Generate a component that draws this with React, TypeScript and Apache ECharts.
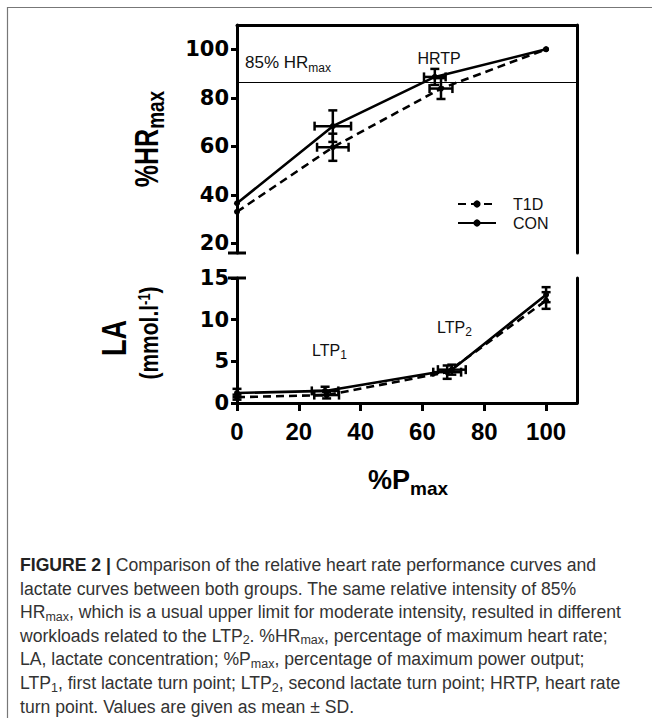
import React, { useEffect, useRef } from 'react';
import * as echarts from 'echarts';

// ---- data ----
const xTicks = [0, 20, 40, 60, 80, 100];
const hrTicks = [20, 40, 60, 80, 100];
const laTicks = [0, 5, 10, 15];

const hrConX = [0, 31, 64, 100];
const hrConY = [36.5, 68.3, 88.6, 100];
const hrConXSd = [0, 5.9, 3.5, 0];
const hrConYSd = [0, 6.5, 3.3, 0];

const hrT1dX = [0, 31, 66, 100];
const hrT1dY = [33, 59.6, 83.8, 100];
const hrT1dXSd = [0, 5.1, 3.7, 0];
const hrT1dYSd = [0, 5.6, 4.3, 0];

const laConX = [0, 28.5, 69.5, 100];
const laConY = [1.2, 1.45, 4.0, 13.0];
const laConXSd = [0, 4.3, 4.5, 0];
const laConYSd = [0.5, 0.5, 0.6, 0.9];

const laT1dX = [0, 29, 68, 100];
const laT1dY = [0.7, 0.95, 3.7, 12.3];
const laT1dXSd = [0, 4.0, 4.5, 0];
const laT1dYSd = [0.3, 0.4, 0.8, 1.0];

const hr85 = 86.5;

const SANS = "'Liberation Sans', Arial, sans-serif";
const BOLDNUM = "'DejaVu Sans', sans-serif";

const pairs = (xs: number[], ys: number[]) => xs.map((x, i) => [x, ys[i]]);

const errorSeries = (
  name: string, xs: number[], ys: number[], xsd: number[], ysd: number[], xi: number, yi: number
) => ({
  type: 'custom',
  name,
  xAxisIndex: xi,
  yAxisIndex: yi,
  coordinateSystem: 'cartesian2d',
  silent: true,
  z: 3,
  data: xs.map((x, i) => [x, ys[i], xsd[i], ysd[i]]),
  encode: { x: 0, y: 1 },
  renderItem: (_p: any, api: any) => {
    const x = api.value(0), y = api.value(1), ex = api.value(2), ey = api.value(3);
    const st = { stroke: '#000', lineWidth: 2.5 };
    const cap = 4.5;
    const ch: any[] = [];
    if (ey > 0) {
      const a = api.coord([x, y + ey]);
      const b = api.coord([x, y - ey]);
      ch.push({ type: 'line', shape: { x1: a[0], y1: a[1], x2: b[0], y2: b[1] }, style: st });
      ch.push({ type: 'line', shape: { x1: a[0] - cap, y1: a[1], x2: a[0] + cap, y2: a[1] }, style: st });
      ch.push({ type: 'line', shape: { x1: b[0] - cap, y1: b[1], x2: b[0] + cap, y2: b[1] }, style: st });
    }
    if (ex > 0) {
      const a = api.coord([x - ex, y]);
      const b = api.coord([x + ex, y]);
      ch.push({ type: 'line', shape: { x1: a[0], y1: a[1], x2: b[0], y2: b[1] }, style: st });
      ch.push({ type: 'line', shape: { x1: a[0], y1: a[1] - cap, x2: a[0], y2: a[1] + cap }, style: st });
      ch.push({ type: 'line', shape: { x1: b[0], y1: b[1] - cap, x2: b[0], y2: b[1] + cap }, style: st });
    }
    return { type: 'group', children: ch };
  },
});

const lineSeries = (name: string, data: number[][], dashed: boolean, xi: number, yi: number) => ({
  type: 'line',
  name,
  xAxisIndex: xi,
  yAxisIndex: yi,
  data,
  symbol: 'circle',
  symbolSize: 6,
  itemStyle: { color: '#000' },
  lineStyle: { color: '#000', width: 2.6, type: dashed ? [8, 5] : 'solid' },
  z: 4,
});

const lineOnly = { show: true, onZero: false, lineStyle: { color: '#000', width: 3 } };

// rich text helpers: all tokens top-aligned, subscripts pushed down with top padding
const main = (fs: number, bold: boolean, fill = '#000') => ({
  fontFamily: SANS, fontWeight: bold ? 'bold' : 'normal', fontSize: fs, fill, color: fill, verticalAlign: 'top',
});
const sub = (fs: number, bold: boolean, drop: number, fill = '#000') => ({
  fontFamily: SANS, fontWeight: bold ? 'bold' : 'normal', fontSize: fs, fill, color: fill, verticalAlign: 'top',
  padding: [drop, 0, 0, 0],
});

export default function App() {
  const ref = useRef<HTMLDivElement>(null);
  useEffect(() => {
    if (!ref.current) return;
    const chart = echarts.init(ref.current, undefined, { renderer: 'svg' });
    const hrCon = lineSeries('CON', pairs(hrConX, hrConY), false, 0, 0) as any;
    hrCon.markLine = {
      symbol: 'none',
      silent: true,
      lineStyle: { color: '#000', width: 1, type: 'solid' },
      label: {
        show: true,
        position: 'insideStartTop',
        distance: 8,
        formatter: '{a|85% HR}{b|max}',
        rich: {
          a: main(17, false, '#111'),
          b: sub(12, false, 8, '#111'),
        },
      },
      data: [{ yAxis: hr85 }],
    };
    const option: any = {
      animation: false,
      backgroundColor: '#fff',
      grid: [
        { left: 237, top: 25, width: 340, height: 228 },
        { left: 237, top: 278, width: 340, height: 125 },
      ],
      xAxis: [
        {
          gridIndex: 0, type: 'value', min: 0, max: 110, position: 'top',
          axisLine: lineOnly, axisTick: { show: false }, axisLabel: { show: false }, splitLine: { show: false },
        },
        {
          gridIndex: 1, type: 'value', min: 0, max: 110, position: 'bottom',
          axisLine: lineOnly,
          axisTick: { show: true, customValues: xTicks, length: 8, lineStyle: { color: '#000', width: 3 } },
          axisLabel: {
            customValues: xTicks, margin: 16, fontFamily: SANS, fontWeight: 'bold', fontSize: 24, color: '#000',
          },
          splitLine: { show: false },
        },
      ],
      yAxis: [
        {
          gridIndex: 0, type: 'value', min: 16, max: 110, position: 'left',
          axisLine: lineOnly,
          axisTick: { show: true, customValues: hrTicks, length: 6, lineStyle: { color: '#000', width: 3 } },
          axisLabel: {
            customValues: hrTicks, margin: 8, fontFamily: BOLDNUM, fontWeight: 'bold', fontSize: 21, color: '#000',
          },
          splitLine: { show: false },
        },
        {
          gridIndex: 0, type: 'value', min: 16, max: 110, position: 'right',
          axisLine: lineOnly, axisTick: { show: false }, axisLabel: { show: false }, splitLine: { show: false },
        },
        {
          gridIndex: 1, type: 'value', min: 0, max: 15, interval: 5, position: 'left',
          axisLine: lineOnly,
          axisTick: { show: true, customValues: laTicks, length: 6, lineStyle: { color: '#000', width: 3 } },
          axisLabel: {
            customValues: laTicks, margin: 8, fontFamily: BOLDNUM, fontWeight: 'bold', fontSize: 21, color: '#000',
          },
          splitLine: { show: false },
        },
        {
          gridIndex: 1, type: 'value', min: 0, max: 15, position: 'right',
          axisLine: lineOnly, axisTick: { show: false }, axisLabel: { show: false }, splitLine: { show: false },
        },
      ],
      legend: {
        data: ['T1D', 'CON'],
        orient: 'vertical',
        left: 452,
        top: 191,
        itemWidth: 38,
        itemHeight: 9,
        itemGap: 3,
        textStyle: { fontFamily: SANS, fontSize: 16, color: '#111', padding: [0, 0, 0, 12] },
        selectedMode: false,
      },
      series: [
        lineSeries('T1D', pairs(hrT1dX, hrT1dY), true, 0, 0),
        hrCon,
        lineSeries('T1D LA', pairs(laT1dX, laT1dY), true, 1, 2),
        lineSeries('CON LA', pairs(laConX, laConY), false, 1, 2),
        errorSeries('e1', hrConX, hrConY, hrConXSd, hrConYSd, 0, 0),
        errorSeries('e2', hrT1dX, hrT1dY, hrT1dXSd, hrT1dYSd, 0, 0),
        errorSeries('e3', laConX, laConY, laConXSd, laConYSd, 1, 2),
        errorSeries('e4', laT1dX, laT1dY, laT1dXSd, laT1dYSd, 1, 2),
      ],
      graphic: [
        // figure frame
        { type: 'line', shape: { x1: 7.5, y1: 7, x2: 7.5, y2: 718 }, style: { stroke: '#777', lineWidth: 1.2 } },
        { type: 'line', shape: { x1: 7, y1: 7.5, x2: 652, y2: 7.5 }, style: { stroke: '#777', lineWidth: 1.2 } },
        // axis break caps
        { type: 'line', shape: { x1: 228, y1: 253, x2: 246, y2: 253 }, style: { stroke: '#000', lineWidth: 3 } },
        { type: 'line', shape: { x1: 228, y1: 278, x2: 246, y2: 278 }, style: { stroke: '#000', lineWidth: 3 } },
        // annotations
        { type: 'text', x: 439, y: 58, style: { text: 'HRTP', fontFamily: SANS, fontSize: 16, fill: '#111', align: 'center', verticalAlign: 'middle' } },
        {
          type: 'text', x: 312, y: 342,
          style: { text: '{a|LTP}{b|1}', align: 'left', verticalAlign: 'top', rich: { a: main(16, false, '#111'), b: sub(12, false, 7, '#111') } },
        },
        {
          type: 'text', x: 437, y: 319,
          style: { text: '{a|LTP}{b|2}', align: 'left', verticalAlign: 'top', rich: { a: main(16, false, '#111'), b: sub(12, false, 7, '#111') } },
        },
        // y titles
        {
          type: 'text', x: 149, y: 139, rotation: Math.PI / 2, scaleY: 1.3,
          style: {
            text: '{a|%HR}{b|max}', align: 'center', verticalAlign: 'middle',
            rich: { a: main(25, true), b: sub(19, true, 10) },
          },
        },
        {
          type: 'text', x: 114, y: 338, rotation: Math.PI / 2, scaleY: 1.3,
          style: { text: 'LA', align: 'center', verticalAlign: 'middle', fontFamily: SANS, fontWeight: 'bold', fontSize: 27, fill: '#000' },
        },
        {
          type: 'text', x: 149, y: 333, rotation: Math.PI / 2, scaleY: 1.2,
          style: {
            text: '{a|(mmol.l}{b|-1}{a|)}', align: 'center', verticalAlign: 'middle',
            rich: { a: main(21, true), b: sub(13, true, 0) },
          },
        },
        // x title
        {
          type: 'text', x: 408, y: 482,
          style: {
            text: '{a|%P}{b|max}', align: 'center', verticalAlign: 'middle',
            rich: { a: main(27, true), b: sub(19, true, 12) },
          },
        },
        // caption
        {
          type: 'text', x: 20, y: 556,
          style: {
            text:
              '{b|FIGURE 2 |}{n| Comparison of the relative heart rate performance curves and}\n' +
              '{n|lactate curves between both groups. The same relative intensity of 85%}\n' +
              '{n|HR}{s|max}{n|, which is a usual upper limit for moderate intensity, resulted in different}\n' +
              '{n|workloads related to the LTP}{s|2}{n|. %HR}{s|max}{n|, percentage of maximum heart rate;}\n' +
              '{n|LA, lactate concentration; %P}{s|max}{n|, percentage of maximum power output;}\n' +
              '{n|LTP}{s|1}{n|, first lactate turn point; LTP}{s|2}{n|, second lactate turn point; HRTP, heart rate}\n' +
              '{n|turn point. Values are given as mean ± SD.}',
            align: 'left', verticalAlign: 'top', lineHeight: 23.6,
            rich: {
              n: { ...main(17.6, false, '#333'), lineHeight: 23.6 },
              b: { ...main(17.6, true, '#222'), lineHeight: 23.6 },
              s: { ...sub(12.5, false, 7, '#333'), lineHeight: 23.6 },
            },
          },
        },
      ],
    };
    chart.setOption(option);
    return () => chart.dispose();
  }, []);
  return <div ref={ref} style={{ position: 'fixed', left: 0, top: 0, width: 652, height: 718, background: '#fff' }} />;
}
